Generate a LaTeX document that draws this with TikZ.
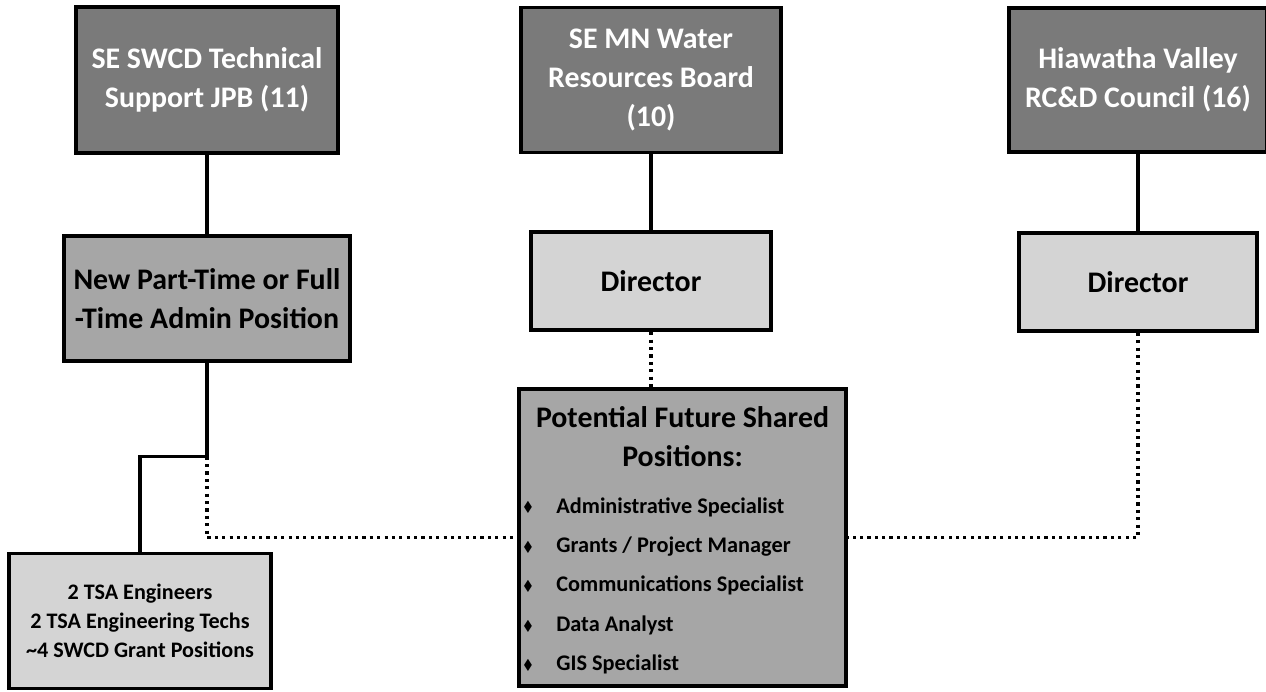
\documentclass[tikz,border=0pt]{standalone}
\usepackage{amssymb}
\usepackage{fontspec}
\setmainfont{Carlito}
\usetikzlibrary{positioning}
\definecolor{hdgray} {RGB}{122,122,122}
\definecolor{posgray}{RGB}{166,166,166}
\definecolor{dirgray}{RGB}{212,212,212}
\newcommand{\dia}{\makebox[0.66cm][l]{\raisebox{0.1ex}{\footnotesize$\blacklozenge$}}}

\begin{document}
\begin{tikzpicture}[x=0.02cm, y=-0.02cm,
    every node/.style={font=\fontsize{17}{22.4}\selectfont\bfseries},
    box/.style={draw=black, line width=2.2pt, align=center, inner sep=2pt},
    headbox/.style={box, fill=hdgray, text=white},
    posbox/.style={box, fill=posgray},
    dirbox/.style={box, fill=dirgray},
    link/.style={line width=2pt},
    dotlink/.style={line width=1.8pt, dash pattern=on 1.8pt off 2.4pt}]
  \useasboundingbox (0,0) rectangle (1266,691);
  % top row
  \node[headbox,minimum width=5.24cm,minimum height=2.92cm] (jpb) at (207,80)
       {SE SWCD Technical\\Support JPB (11)};
  \node[headbox,minimum width=5.2cm,minimum height=2.9cm] (wrb) at (651,80)
       {SE MN Water\\Resources Board\\(10)};
  \node[headbox,minimum width=5.16cm,minimum height=2.88cm] (hvc) at (1138,80)
       {Hiawatha Valley\\RC\&D Council (16)};
  % second row
  \node[posbox,minimum width=5.72cm,minimum height=2.5cm,below=1.58cm of jpb] (admin)
       {New Part-Time or Full\\-Time Admin Position};
  \node[dirbox,minimum width=4.8cm,minimum height=1.96cm,below=1.52cm of wrb] (dira)
       {Director};
  \node[dirbox,minimum width=4.76cm,minimum height=1.96cm,below=1.54cm of hvc] (dirb)
       {Director};
  % bottom row
  \node[dirbox,minimum width=5.24cm,minimum height=2.7cm,
        font=\fontsize{12.6}{16.4}\selectfont\bfseries] (staff) at (140,621)
       {2 TSA Engineers\\2 TSA Engineering Techs\\\textasciitilde4 SWCD Grant Positions};
  \node[posbox,minimum width=6.54cm,minimum height=5.94cm] (shared) at (682.5,537.5) {};
  \node[anchor=north,align=center,inner sep=0pt,below=0.38cm of shared.north] (sharedtitle)
       {Potential Future Shared\\Positions:};
  \node[anchor=north west,align=left,inner sep=0pt,
        font=\fontsize{12.7}{22.4}\selectfont\bfseries] (sharedlist) at (523,497)
       {\dia Administrative Specialist\\\dia Grants / Project Manager\\
        \dia Communications Specialist\\\dia Data Analyst\\\dia GIS Specialist};
  % connectors
  \coordinate (split) at ([yshift=-1.88cm]admin.south);
  \draw[link] (jpb.south) -- (jpb.south |- admin.north);
  \draw[link] (wrb.south) -- (dira.north);
  \draw[link] (hvc.south) -- (dirb.north);
  \draw[link] (admin.south) -- (split) -| (staff.north);
  \draw[dotlink] (split) |- (shared.west);
  \draw[dotlink] (dira.south) -- (dira.south |- shared.north);
  \draw[dotlink] (dirb.south) |- (shared.east);
\end{tikzpicture}
\end{document}
